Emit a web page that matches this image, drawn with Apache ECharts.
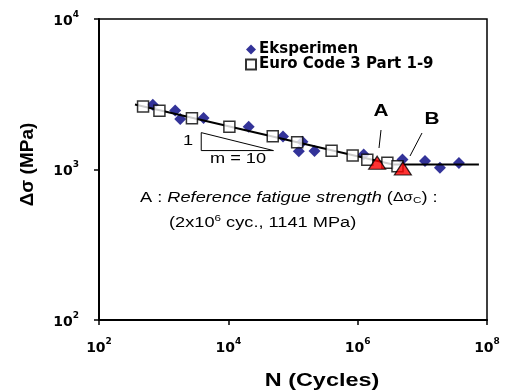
<!DOCTYPE html>
<html>
<head>
<meta charset="utf-8">
<script src="https://cdn.jsdelivr.net/npm/echarts@6/dist/echarts.min.js"></script>
<style>
html,body{margin:0;padding:0;background:#fff;}
#main{width:507px;height:392px;}
</style>
</head>
<body>
<div id="main"></div>
<script>
// Eksperimen (N cycles, stress range MPa)
var eks_n = [680, 1507, 1803, 4140, 20650, 70000, 140000, 123000, 215000, 1240000, 4930000, 11000000, 18700000, 36800000];
var eks_s = [2693, 2462, 2167, 2198, 1927, 1654, 1531, 1322, 1326, 1257, 1165, 1139, 1026, 1104];
// Euro Code 3 Part 1-9
var ec_n = [480, 860, 2735, 10380, 48600, 116000, 395000, 836000, 1410000, 2880000, 4130000];
var ec_s = [2626, 2461, 2188, 1927, 1662, 1517, 1330, 1238, 1159, 1107, 1052];
// S-N line
var line_n = [360, 3500000, 75000000];
var line_s = [2700, 1080, 1080];
// points A and B
var ab_n = [2000000, 5000000];
var ab_s = [1110, 1015];
// slope triangle (m = 10)
var tri_n = [3810, 3810, 49900, 3810];
var tri_s = [1758, 1336, 1336, 1758];

function pairs(xs, ys){
    var out = [];
    for (var i = 0; i < xs.length; i++) {
        out.push([xs[i], ys[i]]);
    }
    return out;
}

function powLabel(v){
    return '{b|10}{s|' + Math.round(Math.log10(v)) + '}';
}

var labelRich = {
    b: {fontSize: 14, fontWeight: 'bold', fontFamily: 'DejaVu Sans', color: '#000', lineHeight: 18, verticalAlign: 'bottom'},
    s: {fontSize: 9, fontWeight: 'bold', fontFamily: 'DejaVu Sans', color: '#000', lineHeight: 18, verticalAlign: 'top'}
};

// the picture is stretched sideways, so texts get a scaleX
var SX = 1.3;

var chart = echarts.init(document.getElementById('main'));
var option = {
    animation: false,
    backgroundColor: '#fff',
    grid: {
        left: 99, right: 20, top: 19, bottom: 72,
        show: true, borderColor: '#000', borderWidth: 1.5
    },
    legend: {
        left: 240, top: 37,
        orient: 'vertical',
        itemWidth: 10, itemHeight: 10, itemGap: 0,
        textStyle: {fontFamily: 'DejaVu Sans', fontWeight: 'bold', fontSize: 15, lineHeight: 15, color: '#000', padding: [0, 0, 0, -2]},
        data: [
            {name: 'Eksperimen', icon: 'diamond'},
            {name: 'Euro Code 3 Part 1-9', icon: 'rect'}
        ]
    },
    xAxis: {
        type: 'log', logBase: 100, min: 100, max: 100000000,
        axisLine: {onZero: false, lineStyle: {color: '#000', width: 2}},
        axisTick: {inside: false, length: 5, lineStyle: {color: '#000', width: 1.5}},
        axisLabel: {margin: 17, formatter: powLabel, rich: labelRich},
        splitLine: {show: false}
    },
    yAxis: {
        type: 'log', logBase: 10, min: 100, max: 10000,
        name: 'Δσ (MPa)', nameLocation: 'middle', nameGap: 62,
        nameTextStyle: {fontFamily: 'Liberation Sans', fontWeight: 'bold', fontSize: 19, color: '#000', padding: [0, 0, 0, 10]},
        axisLine: {onZero: false, lineStyle: {color: '#000', width: 2}},
        axisTick: {inside: false, length: 5, lineStyle: {color: '#000', width: 1.5}},
        axisLabel: {margin: 20, formatter: powLabel, rich: labelRich},
        splitLine: {show: false}
    },
    series: [
        {
            name: 'Eksperimen', type: 'scatter', z: 2,
            symbol: 'diamond', symbolSize: [12, 12],
            itemStyle: {color: '#000080'},
            data: pairs(eks_n, eks_s)
        },
        {
            name: 'S-N', type: 'line', z: 3,
            showSymbol: false, symbol: 'none',
            lineStyle: {color: '#000', width: 2},
            data: pairs(line_n, line_s)
        },
        {
            name: 'Euro Code 3 Part 1-9', type: 'scatter', z: 4,
            symbol: 'rect', symbolSize: 11,
            itemStyle: {color: '#fff', borderColor: '#000', borderWidth: 1.5},
            data: pairs(ec_n, ec_s)
        },
        {
            name: 'AB', type: 'scatter', z: 5,
            symbol: 'triangle', symbolSize: [17, 13],
            itemStyle: {color: '#ff0000', borderColor: '#000', borderWidth: 1.2},
            data: pairs(ab_n, ab_s)
        },
        {
            name: 'slope', type: 'line', z: 3,
            showSymbol: false, symbol: 'none',
            lineStyle: {color: '#000', width: 1},
            data: pairs(tri_n, tri_s)
        }
    ],
    graphic: [
        {type: 'text', x: 322, y: 381, scaleX: SX, style: {text: 'N (Cycles)', fontFamily: 'Liberation Sans', fontWeight: 'bold', fontSize: 18, fill: '#000', align: 'center', verticalAlign: 'middle'}},
        {type: 'text', x: 381, y: 112, scaleX: SX, style: {text: 'A', fontFamily: 'Liberation Sans', fontWeight: 'bold', fontSize: 16, fill: '#000', align: 'center', verticalAlign: 'middle'}},
        {type: 'text', x: 432, y: 120, scaleX: SX, style: {text: 'B', fontFamily: 'Liberation Sans', fontWeight: 'bold', fontSize: 16, fill: '#000', align: 'center', verticalAlign: 'middle'}},
        {type: 'line', shape: {x1: 381, y1: 130, x2: 379, y2: 148}, style: {stroke: '#000', lineWidth: 1}},
        {type: 'line', shape: {x1: 422, y1: 133, x2: 410, y2: 156}, style: {stroke: '#000', lineWidth: 1}},
        {type: 'text', x: 188, y: 141, scaleX: SX, style: {text: '1', fontFamily: 'Liberation Sans', fontSize: 14, fill: '#000', align: 'center', verticalAlign: 'middle'}},
        {type: 'text', x: 238, y: 159, scaleX: SX, style: {text: 'm = 10', fontFamily: 'Liberation Sans', fontSize: 14, fill: '#000', align: 'center', verticalAlign: 'middle'}},
        {type: 'text', x: 140, y: 198, scaleX: SX, style: {
            text: '{n|A : }{i|Reference fatigue strength}{n| (}{d|Δσ}{c|C}{n|) :}',
            align: 'left', verticalAlign: 'middle',
            rich: {
                n: {fontFamily: 'Liberation Sans', fontSize: 14, color: '#000'},
                i: {fontFamily: 'Liberation Sans', fontSize: 14, fontStyle: 'italic', color: '#000'},
                d: {fontFamily: 'Liberation Sans', fontSize: 12, color: '#000'},
                c: {fontFamily: 'Liberation Sans', fontSize: 9, color: '#000', verticalAlign: 'bottom'}
            }
        }},
        {type: 'text', x: 169, y: 222, scaleX: SX, style: {
            text: '{n|(2x10}{s|6}{n| cyc., 1141 MPa)}',
            align: 'left', verticalAlign: 'middle',
            rich: {
                n: {fontFamily: 'Liberation Sans', fontSize: 14, color: '#000', lineHeight: 16, verticalAlign: 'bottom'},
                s: {fontFamily: 'Liberation Sans', fontSize: 9, color: '#000', lineHeight: 16, verticalAlign: 'top'}
            }
        }}
    ]
};
chart.setOption(option);
</script>
</body>
</html>
